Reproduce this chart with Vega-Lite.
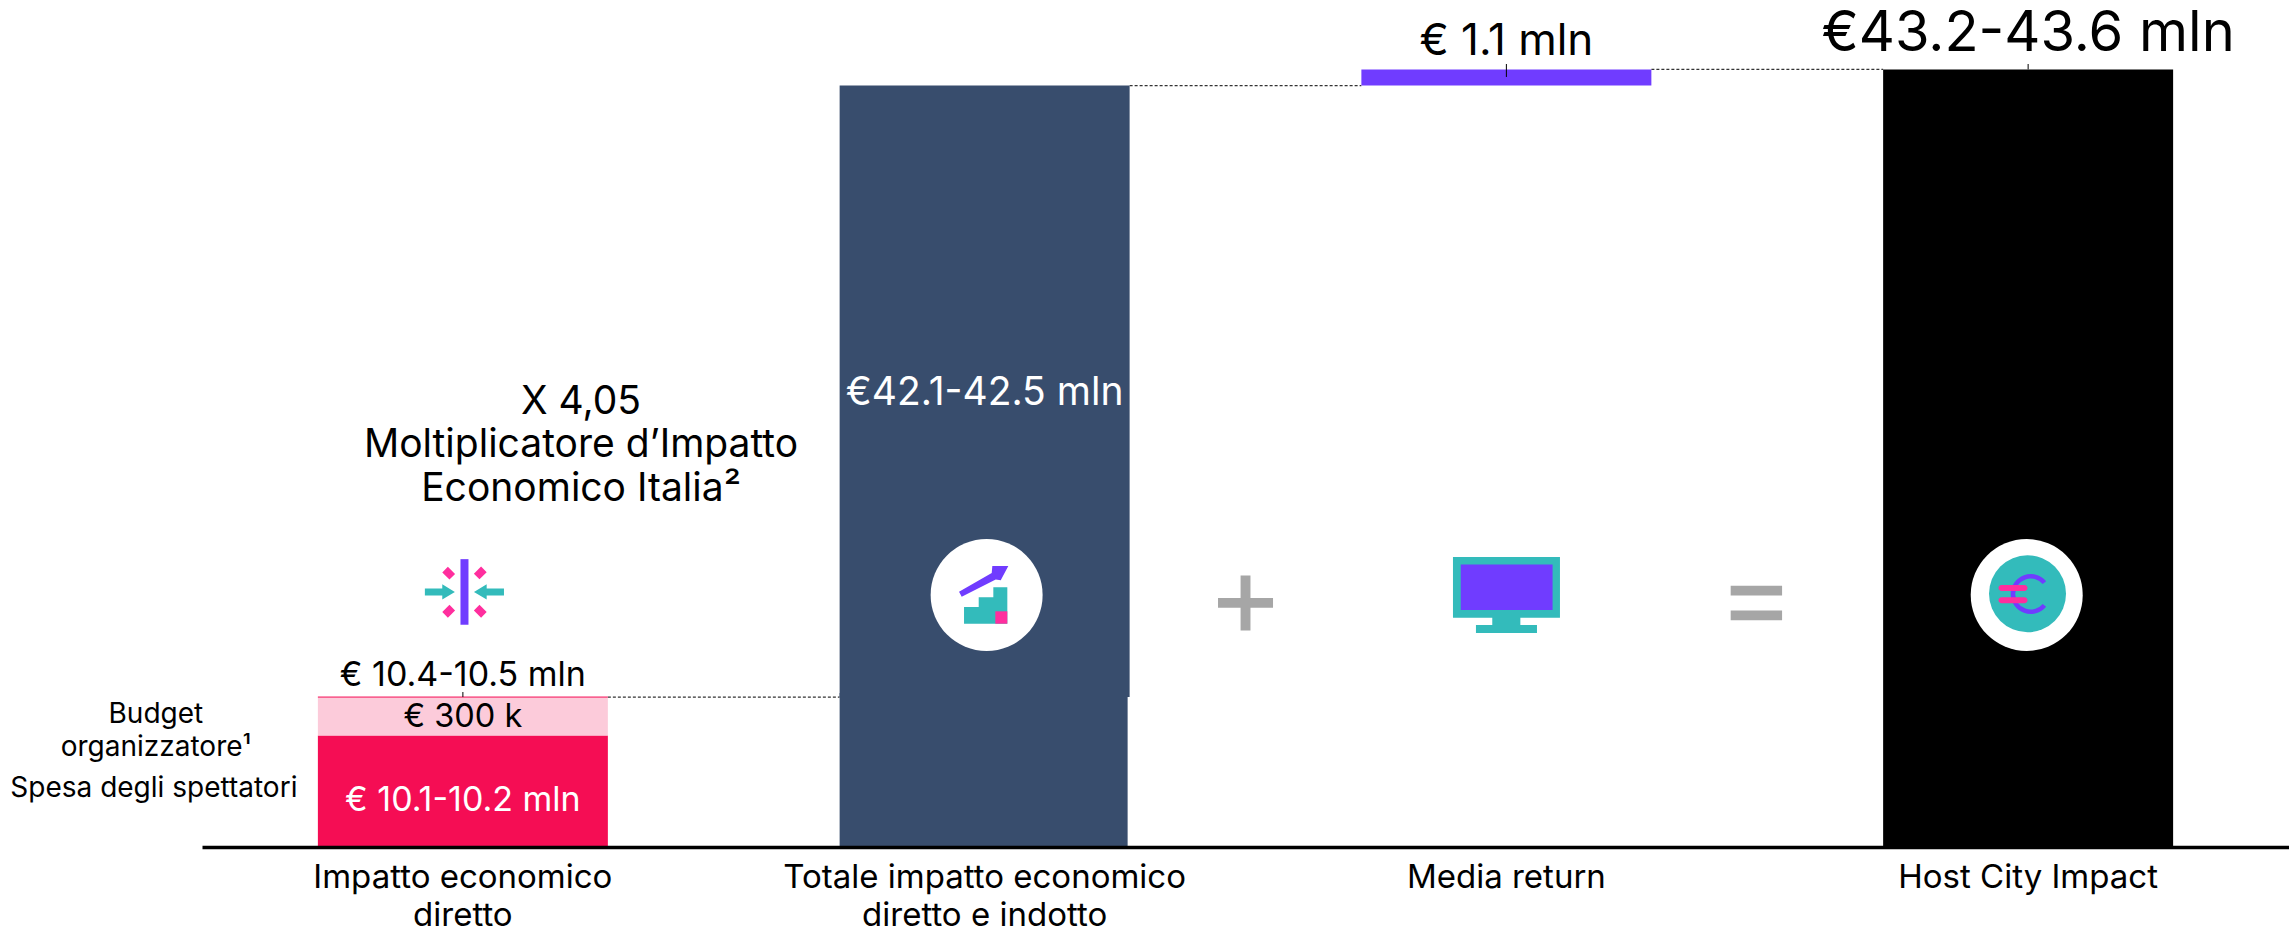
{
"$schema":"https://vega.github.io/schema/vega-lite/v6.json",
"width":2289,"height":847,"autosize":{"type":"none"},
"padding":{"left":0,"top":0,"right":0,"bottom":84},
"background":"white",
"config":{"view":{"stroke":null},"axisY":{"disable":true},"text":{"font":"Inter"}},
"datasets":{
"bars":[
{"cat":"Impatto economico diretto","part":"Spesa degli spettatori","start":0,"end":6.2,"label":"€ 10.1-10.2 mln"},
{"cat":"Impatto economico diretto","part":"Budget organizzatore","start":6.2,"end":8.33,"label":"€ 300 k"},
{"cat":"Totale impatto economico diretto e indotto","part":"Impatto indotto","start":8.33,"end":42.3,"label":"€42.1-42.5 mln"},
{"cat":"Media return","part":"Media return","start":42.3,"end":43.2,"label":"€ 1.1 mln"},
{"cat":"Host City Impact","part":"Host City Impact","start":0,"end":43.2,"label":"€43.2-43.6 mln"}
]},
"encoding":{"x":{"field":"cat","type":"nominal","title":null,"sort":null,
"scale":{"type":"band","domain":["Impatto economico diretto","Totale impatto economico diretto e indotto","Media return","Host City Impact"],"range":[202,2289],"paddingInner":0.4442,"paddingOuter":0.2221},
"axis":{"domainColor":"#000000","domainWidth":3.5,"ticks":false,"grid":false,"labelAngle":0,"labelFont":"Inter","labelFontSize":33,"labelColor":"#000000","labelPadding":14,"labelLineHeight":38,"labelBaseline":"top","labelLimit":0,"labelOverlap":false,"zindex":1,
"labelExpr":"split(replace(datum.label,'economico diretto','economico|diretto'),'|')"}}},
"layer":[
{"data":{"values":[
{"cat":"Impatto economico diretto","to":"Totale impatto economico diretto e indotto","level":8.33},
{"cat":"Totale impatto economico diretto e indotto","to":"Media return","level":42.3},
{"cat":"Media return","to":"Host City Impact","level":43.2}]},
"mark":{"type":"rule","color":"#333333","strokeWidth":1.2,"strokeDash":[3,2]},
"encoding":{"x":{"field":"cat","type":"nominal","bandPosition":1,"title":null},"x2":{"field":"to","bandPosition":0},
"y":{"field":"level","type":"quantitative","scale":{"domain":[0,47.056],"nice":false,"zero":false}}}},
{"data":{"name":"bars"},
"mark":{"type":"bar"},
"encoding":{"y":{"field":"start","type":"quantitative","scale":{"domain":[0,47.056],"nice":false,"zero":false}},"y2":{"field":"end"},
"color":{"field":"part","type":"nominal","legend":null,"scale":{"domain":["Spesa degli spettatori","Budget organizzatore","Impatto indotto","Media return","Host City Impact"],"range":["#F50D54","#FCCBDA","#384D6D","#703CFF","#000000"]}}}},
{"data":{"values":[{"cat":"Totale impatto economico diretto e indotto","start":0,"end":8.55}]},
"mark":{"type":"bar","color":"#384D6D","width":288,"xOffset":-1},
"encoding":{"y":{"field":"start","type":"quantitative"},"y2":{"field":"end"}}},
{"data":{"values":[{"cat":"Impatto economico diretto","to":"Impatto economico diretto","level":8.33}]},
"mark":{"type":"rule","color":"#F50D54","strokeWidth":1},
"encoding":{"x":{"field":"cat","type":"nominal","bandPosition":0,"title":null},"x2":{"field":"to","bandPosition":1},"y":{"field":"level","type":"quantitative"}}},
{"data":{"values":[
{"cat":"Impatto economico diretto","from":8.33,"to":8.61},
{"cat":"Media return","from":42.78,"to":43.5},
{"cat":"Host City Impact","from":43.2,"to":43.5}]},
"mark":{"type":"rule","color":"#000000","strokeWidth":1},
"encoding":{"y":{"field":"from","type":"quantitative"},"y2":{"field":"to"}}},

{"data":{"values":[{"cat":"Totale impatto economico diretto e indotto"}]},"mark":{"type":"point","filled":true,"opacity":1,"color":"#FFFFFF","shape":"circle","size":12544,"xOffset":2},"encoding":{"y":{"datum":14,"type":"quantitative"}}},
{"data":{"values":[{"cat":"Host City Impact"}]},"mark":{"type":"point","filled":true,"opacity":1,"color":"#FFFFFF","shape":"circle","size":12544,"xOffset":-1.4},"encoding":{"y":{"datum":14,"type":"quantitative"}}},
{"data":{"values":[{"cat":"Host City Impact"}]},"mark":{"type":"point","filled":true,"opacity":1,"color":"#33BBBB","shape":"circle","size":5929,"xOffset":-0.6},"encoding":{"y":{"datum":14.07,"type":"quantitative"}}},
{"data":{"values":[{"cat":"Host City Impact"}]},"mark":{"type":"point","filled":false,"opacity":1,"color":"#703CFF","strokeWidth":4.5,"size":1267,"xOffset":2.6,"shape":"M.77,-.64A1,1 0 1 0 .77,.64"},"encoding":{"y":{"datum":14.056,"type":"quantitative"}}},
{"data":{"values":[{"cat":"Host City Impact"}]},"mark":{"type":"point","filled":true,"opacity":1,"color":"#FF2E9E","size":1600,"xOffset":-0.6,"shape":"M-1.3,-.45H-.15A.15,.15 0 0 1 -.15,-.15H-1.3A.15,.15 0 0 1 -1.3,-.45Z M-1.3,.165H-.15A.15,.15 0 0 1 -.15,.465H-1.3A.15,.15 0 0 1 -1.3,.165Z"},"encoding":{"y":{"datum":14.056,"type":"quantitative"}}},

{"data":{"values":[{"cat":"Impatto economico diretto"}]},"mark":{"type":"point","filled":true,"opacity":1,"color":"#703CFF","size":6400,"xOffset":1.6,"shape":"M-.1,-.82H.1V.82H-.1Z"},"encoding":{"y":{"datum":14.17,"type":"quantitative"}}},
{"data":{"values":[{"cat":"Impatto economico diretto"}]},"mark":{"type":"point","filled":true,"opacity":1,"color":"#33BBBB","size":6400,"xOffset":1.6,"shape":"M-.99,-.0875H-.555V-.19L-.24,0L-.555,.19V.0875H-.99Z M.9875,-.0875H.555V-.19L.2375,0L.555,.19V.0875H.9875Z"},"encoding":{"y":{"datum":14.17,"type":"quantitative"}}},
{"data":{"values":[{"cat":"Impatto economico diretto"}]},"mark":{"type":"point","filled":true,"opacity":1,"color":"#FF2E9E","size":6400,"xOffset":1.6,"shape":"M-.555,-.488L-.415,-.628L-.235,-.448L-.375,-.308Z M.555,-.495L.415,-.635L.235,-.455L.375,-.315Z M-.555,.503L-.415,.643L-.235,.463L-.375,.323Z M.555,.503L.415,.643L.235,.463L.375,.323Z"},"encoding":{"y":{"datum":14.17,"type":"quantitative"}}},

{"data":{"values":[{"cat":"Totale impatto economico diretto e indotto"}]},"mark":{"type":"point","filled":true,"opacity":1,"color":"#703CFF","size":6400,"xOffset":1.4,"shape":"M-.675,-.083L.1425,-.55L.1575,-.725L.5575,-.725L.3675,-.368L.2425,-.39L-.608,.043Z"},"encoding":{"y":{"datum":14,"type":"quantitative"}}},
{"data":{"values":[{"cat":"Totale impatto economico diretto e indotto"}]},"mark":{"type":"point","filled":true,"opacity":1,"color":"#33BBBB","size":6400,"xOffset":1.4,"shape":"M-.55,.7175V.3H-.183V.0575H.1825V-.1925H.5325V.7175Z"},"encoding":{"y":{"datum":14,"type":"quantitative"}}},
{"data":{"values":[{"cat":"Totale impatto economico diretto e indotto"}]},"mark":{"type":"point","filled":true,"opacity":1,"color":"#FF2E9E","size":6400,"xOffset":1.4,"shape":"M.2325,.4075H.5325V.7175H.2325Z"},"encoding":{"y":{"datum":14,"type":"quantitative"}}},

{"data":{"values":[{"cat":"Media return"}]},"mark":{"type":"point","filled":true,"opacity":1,"color":"#33BBBB","size":14400,"shape":"M-.89,-.633H.893V.378H.233V.5H.51V.633H-.507V.5H-.235V.378H-.89Z"},"encoding":{"y":{"datum":14,"type":"quantitative"}}},
{"data":{"values":[{"cat":"Media return"}]},"mark":{"type":"point","filled":true,"opacity":1,"color":"#703CFF","size":14400,"shape":"M-.76,-.51H.77V.25H-.76Z"},"encoding":{"y":{"datum":14,"type":"quantitative"}}},

{"data":{"values":[{"cat":"Totale impatto economico diretto e indotto"}]},"mark":{"type":"point","filled":true,"opacity":1,"color":"#A6A6A6","size":3025,"xOffset":260.9,"shape":"M-.18,-1H.18V-.18H1V.18H.18V1H-.18V.18H-1V-.18H-.18Z"},"encoding":{"y":{"datum":13.56,"type":"quantitative"}}},
{"data":{"values":[{"cat":"Media return"}]},"mark":{"type":"point","filled":true,"opacity":1,"color":"#A6A6A6","size":2642,"xOffset":250,"shape":"M-1,-.67H1V-.29H-1Z M-1,.29H1V.67H-1Z"},"encoding":{"y":{"datum":13.56,"type":"quantitative"}}},

{"data":{"values":[{"cat":"Impatto economico diretto","end":8.33,"label":"€ 10.4-10.5 mln"}]},"mark":{"type":"text","fontSize":34,"color":"#000000","dy":-21,"baseline":"middle"},"encoding":{"y":{"field":"end","type":"quantitative"},"text":{"field":"label"}}},
{"data":{"name":"bars"},"transform":[{"filter":"datum.part==='Budget organizzatore'"}],"mark":{"type":"text","fontSize":32.5,"color":"#000000","dy":20,"baseline":"middle"},"encoding":{"y":{"field":"end","type":"quantitative"},"text":{"field":"label"}}},
{"data":{"name":"bars"},"transform":[{"filter":"datum.part==='Spesa degli spettatori'"}],"mark":{"type":"text","fontSize":34,"color":"#FFFFFF","dy":66,"baseline":"middle"},"encoding":{"y":{"field":"end","type":"quantitative"},"text":{"field":"label"}}},
{"data":{"name":"bars"},"transform":[{"filter":"datum.part==='Impatto indotto'"}],"mark":{"type":"text","fontSize":39,"color":"#FFFFFF","dy":307,"baseline":"middle"},"encoding":{"y":{"field":"end","type":"quantitative"},"text":{"field":"label"}}},
{"data":{"name":"bars"},"transform":[{"filter":"datum.part==='Media return'"}],"mark":{"type":"text","fontSize":44,"color":"#000000","dy":-27,"baseline":"middle"},"encoding":{"y":{"field":"end","type":"quantitative"},"text":{"field":"label"}}},
{"data":{"name":"bars"},"transform":[{"filter":"datum.part==='Host City Impact'"}],"mark":{"type":"text","fontSize":56,"color":"#000000","dy":-35,"baseline":"middle"},"encoding":{"y":{"field":"end","type":"quantitative"},"text":{"field":"label"}}},
{"data":{"values":[
{"cat":"Impatto economico diretto","level":7.34,"label":"Budget"},
{"cat":"Impatto economico diretto","level":5.52,"label":"organizzatore¹"}]},
"mark":{"type":"text","fontSize":28,"color":"#000000","dx":-307,"baseline":"middle"},"encoding":{"y":{"field":"level","type":"quantitative"},"text":{"field":"label"}}},
{"data":{"values":[{"cat":"Impatto economico diretto","level":3.22,"label":"Spesa degli spettatori"}]},
"mark":{"type":"text","fontSize":28,"color":"#000000","dx":-309,"baseline":"middle"},"encoding":{"y":{"field":"level","type":"quantitative"},"text":{"field":"label"}}},
{"data":{"values":[
{"cat":"Totale impatto economico diretto e indotto","level":24.75,"label":"X 4,05"},
{"cat":"Totale impatto economico diretto e indotto","level":22.33,"label":"Moltiplicatore d’Impatto"},
{"cat":"Totale impatto economico diretto e indotto","level":19.89,"label":"Economico Italia²"}]},
"mark":{"type":"text","fontSize":39,"color":"#000000","dx":-403.6,"baseline":"middle"},"encoding":{"y":{"field":"level","type":"quantitative"},"text":{"field":"label"}}}
]}
